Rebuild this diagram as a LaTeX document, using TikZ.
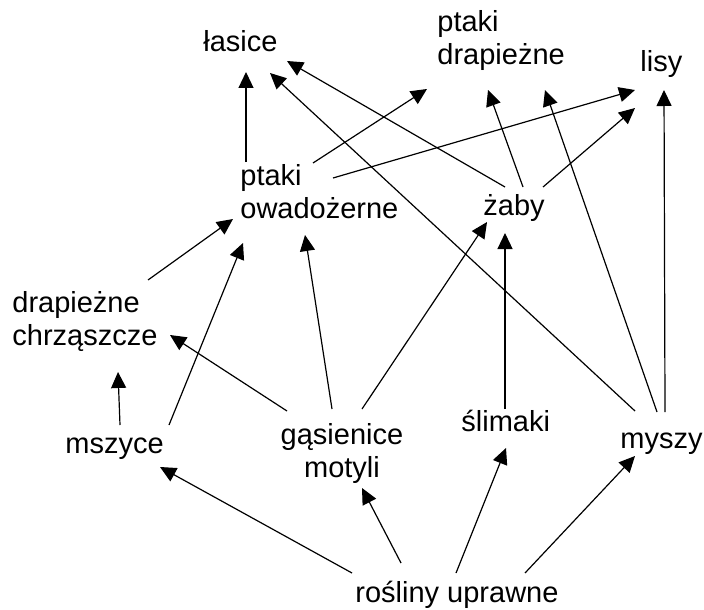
\documentclass[tikz,border=0pt]{standalone}
\usepackage{fontspec}
\setmainfont{Liberation Sans}
\usetikzlibrary{arrows.meta}

\tikzset{
	organism/.style={inner sep=0pt, anchor=base west, font=\fontsize{14.5}{16.5}\selectfont},
	eats/.style={line width=0.6pt, -{Triangle[length=8pt,width=7.5pt]}}
}

\begin{document}
\begin{tikzpicture}[x=0.5pt,y=-0.5pt]
	\useasboundingbox (0,0) rectangle (704,609);
	% top of the web
	\node[organism] (lasice) at (203,52) {łasice};
	\node[organism, align=left] (ptakidrap) at (437,65) {ptaki\\drapieżne};
	\node[organism] (lisy) at (640,72) {lisy};
	% middle
	\node[organism, align=left] (ptakiowad) at (240,218) {ptaki\\owadożerne};
	\node[organism] (zaby) at (483,215) {żaby};
	\node[organism, align=left] (chrzaszcze) at (12,345) {drapieżne\\chrząszcze};
	% plant eaters
	\node[organism] (mszyce) at (65,453) {mszyce};
	\node[organism, align=center, anchor=base] (gasienice) at (342,477) {gąsienice\\motyli};
	\node[organism] (slimaki) at (461,431) {ślimaki};
	\node[organism] (myszy) at (620,448) {myszy};
	% plants
	\node[organism] (rosliny) at (355,602) {rośliny uprawne};

	% who is eaten by whom
	\draw[eats] ([shift={(6,-56)}]ptakiowad.base west) -- ([shift={(43,20)}]lasice.base west);
	\draw[eats] ([shift={(73,-55)}]ptakiowad.base west) -- ([shift={(-10,24)}]ptakidrap.base west);
	\draw[eats] ([shift={(93,-40)}]ptakiowad.base west) -- ([shift={(-5,18)}]lisy.base west);

	\draw[eats] ([shift={(22,-28)}]zaby.base west) -- ([shift={(84,9)}]lasice.base west);
	\draw[eats] ([shift={(40,-28)}]zaby.base west) -- ([shift={(51,25)}]ptakidrap.base west);
	\draw[eats] ([shift={(60,-28)}]zaby.base west) -- ([shift={(-5,36)}]lisy.base west);

	\draw[eats] ([shift={(15,-37)}]myszy.base west) -- ([shift={(67,21)}]lasice.base west);
	\draw[eats] ([shift={(37,-36)}]myszy.base west) -- ([shift={(108,25)}]ptakidrap.base west);
	\draw[eats] ([shift={(45,-36)}]myszy.base west) -- ([shift={(24,18)}]lisy.base west);

	\draw[eats] ([shift={(136,-65)}]chrzaszcze.base west) -- ([shift={(-7,1)}]ptakiowad.base west);
	\draw[eats] ([shift={(104,-28)}]mszyce.base west) -- ([shift={(3,25)}]ptakiowad.base west);
	\draw[eats] ([shift={(-10,-68)}]gasienice.base) -- ([shift={(65,17)}]ptakiowad.base west);
	\draw[eats] ([shift={(-55,-66)}]gasienice.base) -- ([shift={(158,-10)}]chrzaszcze.base west);
	\draw[eats] ([shift={(20,-68)}]gasienice.base) -- ([shift={(4,7)}]zaby.base west);
	\draw[eats] ([shift={(44,-22)}]slimaki.base west) -- ([shift={(22,18)}]zaby.base west);
	\draw[eats] ([shift={(55,-28)}]mszyce.base west) -- ([shift={(106,27)}]chrzaszcze.base west);

	\draw[eats] ([shift={(-3,-29)}]rosliny.base west) -- ([shift={(95,14)}]mszyce.base west);
	\draw[eats] ([shift={(46,-39)}]rosliny.base west) -- ([shift={(20,11)}]gasienice.base);
	\draw[eats] ([shift={(101,-29)}]rosliny.base west) -- ([shift={(45,17)}]slimaki.base west);
	\draw[eats] ([shift={(170,-29)}]rosliny.base west) -- ([shift={(15,8)}]myszy.base west);
\end{tikzpicture}
\end{document}
